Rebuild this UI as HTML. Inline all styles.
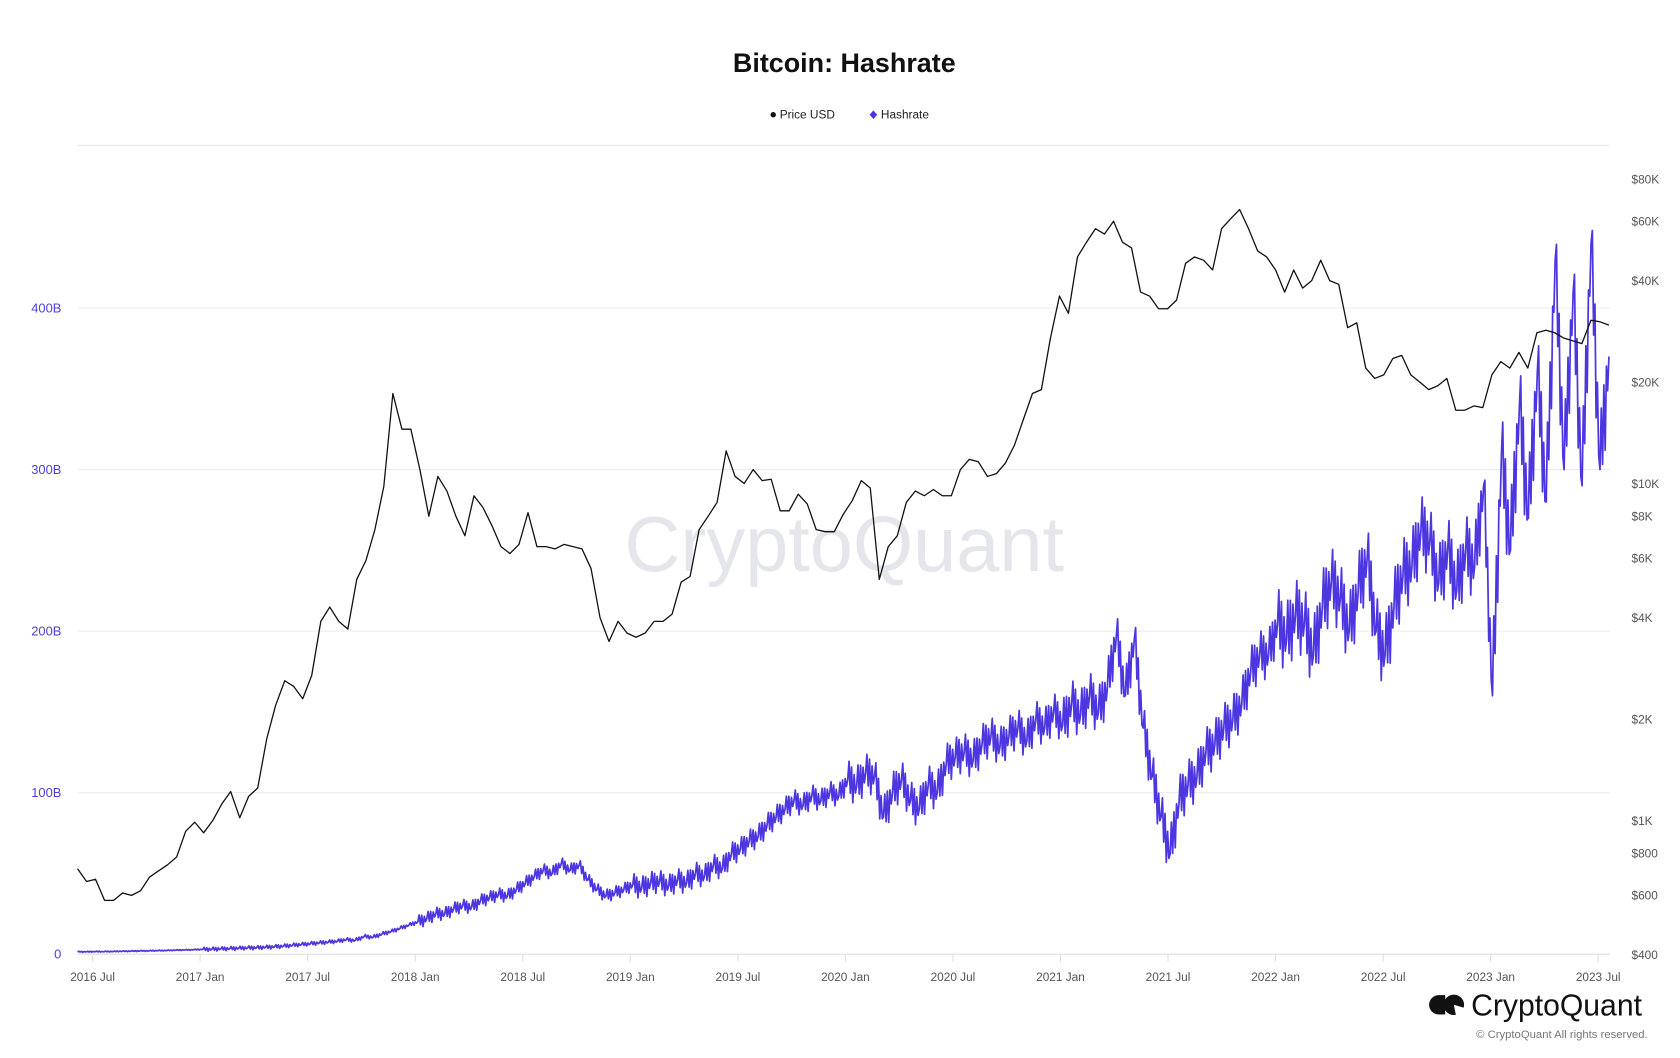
<!DOCTYPE html>
<html><head><meta charset="utf-8"><style>
html,body{margin:0;padding:0;background:#fff;}
svg{display:block;font-family:"Liberation Sans",Arial,sans-serif;}
</style></head><body>
<svg id="chart" width="1680" height="1058" viewBox="0 0 1560 982.4" preserveAspectRatio="none" xmlns="http://www.w3.org/2000/svg">
<text x="784" y="67" text-anchor="middle" font-size="25" font-weight="bold" fill="#111">Bitcoin: Hashrate</text>
<g font-size="11" fill="#222">
 <g><circle cx="718" cy="106.5" r="2.5" fill="#111"/><text x="724" y="110">Price USD</text></g>
 <g><path d="M811 102.5 L814.5 106.5 L811 110.5 L807.5 106.5Z" fill="#4b36e0"/><text x="818" y="110">Hashrate</text></g>
</g>
<line x1="72" y1="135" x2="1495" y2="135" stroke="#e6e6e6"/>
<text x="784" y="530" text-anchor="middle" font-size="72" fill="#e4e6ec">CryptoQuant</text>
<g id="grid"></g>
<g id="lefty"></g>
<g id="righty"></g>
<g id="xaxis"></g>
<g id="series"></g>
<g>
 <path d="M1336 924 h6 v18 h-6 a9 9 0 0 1 0 -18 Z" fill="#111"/>
 <circle cx="1350" cy="933" r="9.5" fill="#111"/>
 <path d="M1350 933 L1360 936 L1360 943 L1352 943 Z" fill="#fff"/>
 <text x="1366" y="943" font-size="28" fill="#111">CryptoQuant</text>
</g>
<text x="1530" y="964" text-anchor="end" font-size="10.5" fill="#777">© CryptoQuant All rights reserved.</text>
</svg>
<script>
const xTickLabels=["2016 Jul","2017 Jan","2017 Jul","2018 Jan","2018 Jul","2019 Jan","2019 Jul","2020 Jan","2020 Jul","2021 Jan","2021 Jul","2022 Jan","2022 Jul","2023 Jan","2023 Jul"];
const xTickYears=[2016.5,2017,2017.5,2018,2018.5,2019,2019.5,2020,2020.5,2021,2021.5,2022,2022.5,2023,2023.5];
const leftTicks=[0,100,200,300,400];
const leftTickLabels=["0","100B","200B","300B","400B"];
const rightTicks=[400,600,800,1000,2000,4000,6000,8000,10000,20000,40000,60000,80000];
const rightTickLabels=["$400","$600","$800","$1K","$2K","$4K","$6K","$8K","$10K","$20K","$40K","$60K","$80K"];
const startYear=2016.43, endYear=2023.55;
// price in thousand USD, half-monthly
const priceK=[0.72,0.66,0.67,0.58,0.58,0.61,0.60,0.62,0.68,0.71,0.74,0.78,0.93,
0.99,0.92,1.00,1.12,1.22,1.02,1.18,1.25,1.75,2.2,2.6,2.5,2.3,2.7,3.9,4.3,3.9,3.7,5.2,5.9,7.3,9.8,18.5,14.5,
14.5,11.0,8.0,10.5,9.5,8.0,7.0,9.2,8.5,7.5,6.5,6.2,6.6,8.2,6.5,6.5,6.4,6.6,6.5,6.4,5.6,4.0,3.4,3.9,
3.6,3.5,3.6,3.9,3.9,4.1,5.1,5.3,7.3,8.0,8.8,12.5,10.5,10.0,11.0,10.2,10.3,8.3,8.3,9.3,8.7,7.3,7.2,7.2,
8.1,8.9,10.2,9.7,5.2,6.5,7.0,8.8,9.5,9.2,9.6,9.2,9.2,11.0,11.8,11.6,10.5,10.7,11.5,13.0,15.5,18.5,19.0,27.0,
36.0,32.0,47.0,52.0,57.0,55.0,60.0,52.0,50.0,37.0,36.0,33.0,33.0,35.0,45.0,47.0,46.0,43.0,57.0,61.0,65.0,57.0,49.0,47.0,
43.0,37.0,43.0,38.0,40.0,46.0,40.0,39.0,29.0,30.0,22.0,20.5,21.0,23.5,24.0,21.0,20.0,19.0,19.5,20.5,16.5,16.5,17.0,16.8,
21.0,23.0,22.0,24.5,22.0,28.0,28.5,28.0,27.0,26.5,26.0,30.5,30.2,29.5];
// hashrate in billions (chart units), half-monthly
const hashrate=[1.5,1.5,1.6,1.6,1.7,1.8,1.9,2.0,2.1,2.2,2.3,2.5,2.6,
2.8,3.0,3.1,3.3,3.5,3.7,3.9,4.0,4.3,4.6,5.0,5.5,6.0,6.5,7.0,7.5,8.0,9.0,8.5,11.0,10.5,12.5,14.0,16.0,
18,20,22,25,25,28,30,29,33,35,37,36,40,44,48,52,50,56,52,55,46,40,36,38,
40,43,41,44,45,42,46,44,50,48,55,53,62,65,70,73,80,85,90,95,92,98,95,100,
98,108,104,112,110,85,100,108,95,90,105,100,118,122,125,120,130,135,128,135,140,132,145,140,
150,142,155,148,160,150,165,198,160,195,140,110,85,62,95,105,110,125,130,140,145,155,175,185,
185,205,195,210,205,185,215,230,220,200,225,245,200,185,215,235,240,262,255,230,250,225,250,240,
290,160,310,250,340,270,360,280,430,300,410,290,440,300,370];
// typical daily fluctuation around the half-monthly value, by year (2016..2023)
const spreadYears=[2016,2017,2018,2019,2020,2021,2022,2023];
const spreadByYear=[0.3,1.2,4,7,12,15,22,28];

const NS="http://www.w3.org/2000/svg";
function xYear(y){return 86+(y-2016.5)*199.72;}
function yearOf(i,n){return startYear+(endYear-startYear)*i/(n-1);}
function yLeft(v){return 886-v*1.5;}
function yRight(p){return 762-313*Math.log10(p/1000);}
function mk(tag,parent,attrs){const e=document.createElementNS(NS,tag);for(const k in attrs)e.setAttribute(k,attrs[k]);parent.appendChild(e);return e;}
const grid=document.getElementById('grid'),ly=document.getElementById('lefty'),ry=document.getElementById('righty'),xa=document.getElementById('xaxis'),ser=document.getElementById('series');
leftTicks.forEach((v,i)=>{
 const g=mk('line',grid,{x1:72,x2:1495,y1:yLeft(v),y2:yLeft(v),stroke:v===0?'#dedede':'#ececec'});
 
 
 const t=mk('text',ly,{x:57,y:yLeft(v)+4,'text-anchor':'end','font-size':12,fill:'#4d3fd9'});
 t.textContent=leftTickLabels[i];
 
 
});
rightTicks.forEach((p,i)=>{
 const t=mk('text',ry,{x:1515,y:yRight(p)+4,'font-size':11,fill:'#555'});
 t.textContent=rightTickLabels[i];
 
 
});
xTickYears.forEach((yv,i)=>{
 const x=xYear(yv);
 const l=mk('line',xa,{x1:x,x2:x,y1:886,y2:893,stroke:'#dedede'});
 
 
 const t=mk('text',xa,{x:x,y:911,'text-anchor':'middle','font-size':11,fill:'#555'});
 t.textContent=xTickLabels[i];
 
 
});
let d='';
const n=hashrate.length, stepX=xYear(yearOf(1,n))-xYear(yearOf(0,n));
const pattern=[0,1,-0.6,0.8,-1,0.5,-0.4];
hashrate.forEach((v,i)=>{
 const yr=yearOf(i,n);
 const s=spreadByYear[Math.max(0,spreadYears.indexOf(Math.floor(yr)))];
 const x=xYear(yr);
 if(i===n-1){d+='L'+x.toFixed(1)+' '+yLeft(v).toFixed(1);return;}
 const next=hashrate[i+1];
 pattern.forEach((p,k)=>{
  const f=k/pattern.length;
  const base=v+(next-v)*f;
  d+=((i||k)?'L':'M')+(x+stepX*f).toFixed(1)+' '+yLeft(Math.max(0.5,base+p*s)).toFixed(1);
 });
});
const hp=mk('path',ser,{d:d,fill:'none',stroke:'#4b36e0','stroke-width':1.6,'stroke-linejoin':'round'});


d='';
priceK.forEach((v,i)=>{d+=(i?'L':'M')+xYear(yearOf(i,priceK.length)).toFixed(1)+' '+yRight(v*1000).toFixed(1);});
const pp=mk('path',ser,{d:d,fill:'none',stroke:'#111','stroke-width':1.2,'stroke-linejoin':'round'});


</script>
</body></html>
